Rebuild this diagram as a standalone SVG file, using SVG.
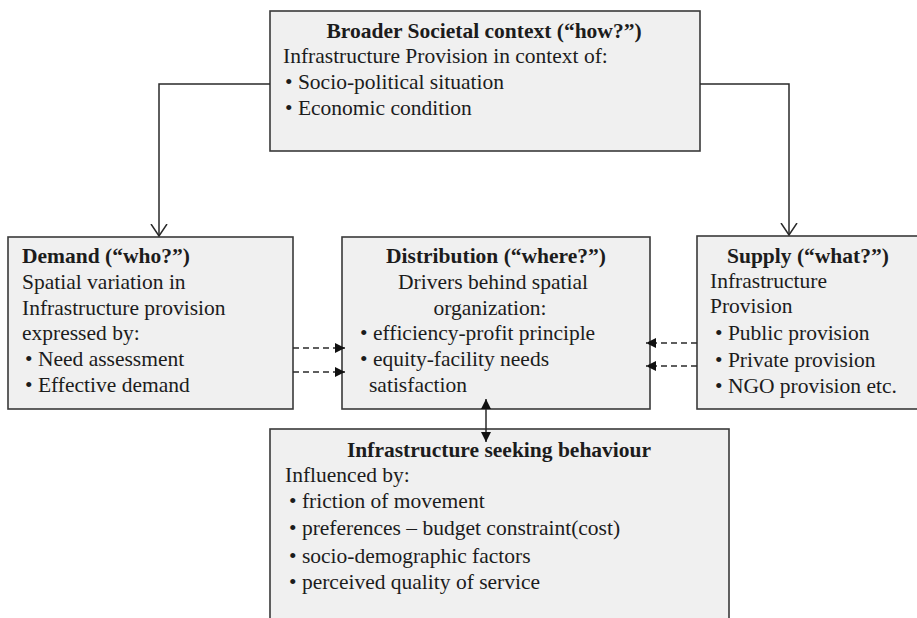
<svg xmlns="http://www.w3.org/2000/svg" width="917" height="618" viewBox="0 0 917 618">
<style>
  .box { fill: #f0f0f0; stroke: #3a3a3a; stroke-width: 1.6; }
  text { font-family: "Liberation Serif", "Times New Roman", serif; font-size: 21.5px; fill: #1c1c1c; }
  .b { font-weight: bold; }
  .m { text-anchor: middle; }
  .line { fill: none; stroke: #2a2a2a; stroke-width: 1.5; }
  .dash { fill: none; stroke: #2a2a2a; stroke-width: 1.4; stroke-dasharray: 6 4; }
</style>
<defs>
  <marker id="open" viewBox="0 -9 13 18" refX="12" refY="0" markerWidth="13" markerHeight="18" markerUnits="userSpaceOnUse" orient="auto">
    <path d="M0,-8 L12,0 L0,8" fill="none" stroke="#2a2a2a" stroke-width="1.5"/>
  </marker>
  <marker id="tri" viewBox="0 0 10 10" refX="10" refY="5" markerWidth="10" markerHeight="10" markerUnits="userSpaceOnUse" orient="auto-start-reverse">
    <path d="M0,0 L10,5 L0,10 z" fill="#111" stroke="none"/>
  </marker>
</defs>
<rect width="917" height="618" fill="#ffffff"/>

<g id="context">
  <rect class="box" x="270" y="11" width="430" height="140"/>
  <text class="b m" x="484" y="38">Broader Societal context (“how?”)</text>
  <text x="283" y="63">Infrastructure Provision in context of:</text>
  <text x="285" y="89">• Socio-political situation</text>
  <text x="285" y="115">• Economic condition</text>
</g>

<g id="demand">
  <rect class="box" x="8" y="237" width="285" height="172"/>
  <text class="b" x="22" y="263">Demand (“who?”)</text>
  <text x="22" y="289">Spatial variation in</text>
  <text x="22" y="315">Infrastructure provision</text>
  <text x="22" y="340">expressed by:</text>
  <text x="25" y="366">• Need assessment</text>
  <text x="25" y="392">• Effective demand</text>
</g>

<g id="distribution">
  <rect class="box" x="342" y="237" width="308" height="172"/>
  <text class="b m" x="496" y="263">Distribution (“where?”)</text>
  <text class="m" x="493" y="289">Drivers behind spatial</text>
  <text class="m" x="490" y="315">organization:</text>
  <text x="360" y="340">• efficiency-profit principle</text>
  <text x="360" y="366">• equity-facility needs</text>
  <text x="369" y="392">satisfaction</text>
</g>

<g id="supply">
  <rect class="box" x="697" y="236" width="225" height="173"/>
  <text class="b" x="727" y="263">Supply (“what?”)</text>
  <text x="710" y="288">Infrastructure</text>
  <text x="710" y="313">Provision</text>
  <text x="715" y="340">• Public provision</text>
  <text x="715" y="367">• Private provision</text>
  <text x="715" y="393">• NGO provision etc.</text>
</g>

<g id="seeking">
  <rect class="box" x="270" y="429" width="459" height="200"/>
  <text class="b m" x="499" y="457">Infrastructure seeking behaviour</text>
  <text x="285" y="482">Influenced by:</text>
  <text x="289" y="508">• friction of movement</text>
  <text x="289" y="535">• preferences – budget constraint(cost)</text>
  <text x="289" y="563">• socio-demographic factors</text>
  <text x="289" y="589">• perceived quality of service</text>
</g>

<g id="connectors">
  <path class="line" d="M270,84 H159 V236" marker-end="url(#open)"/>
  <path class="line" d="M700,84 H789 V235" marker-end="url(#open)"/>
  <path class="dash" d="M293,348 H345" marker-end="url(#tri)"/>
  <path class="dash" d="M293,372 H345" marker-end="url(#tri)"/>
  <path class="dash" d="M697,343 H646" marker-end="url(#tri)"/>
  <path class="dash" d="M697,366 H646" marker-end="url(#tri)"/>
  <path class="line" d="M486,399 V442" marker-start="url(#tri)" marker-end="url(#tri)"/>
</g>
</svg>
